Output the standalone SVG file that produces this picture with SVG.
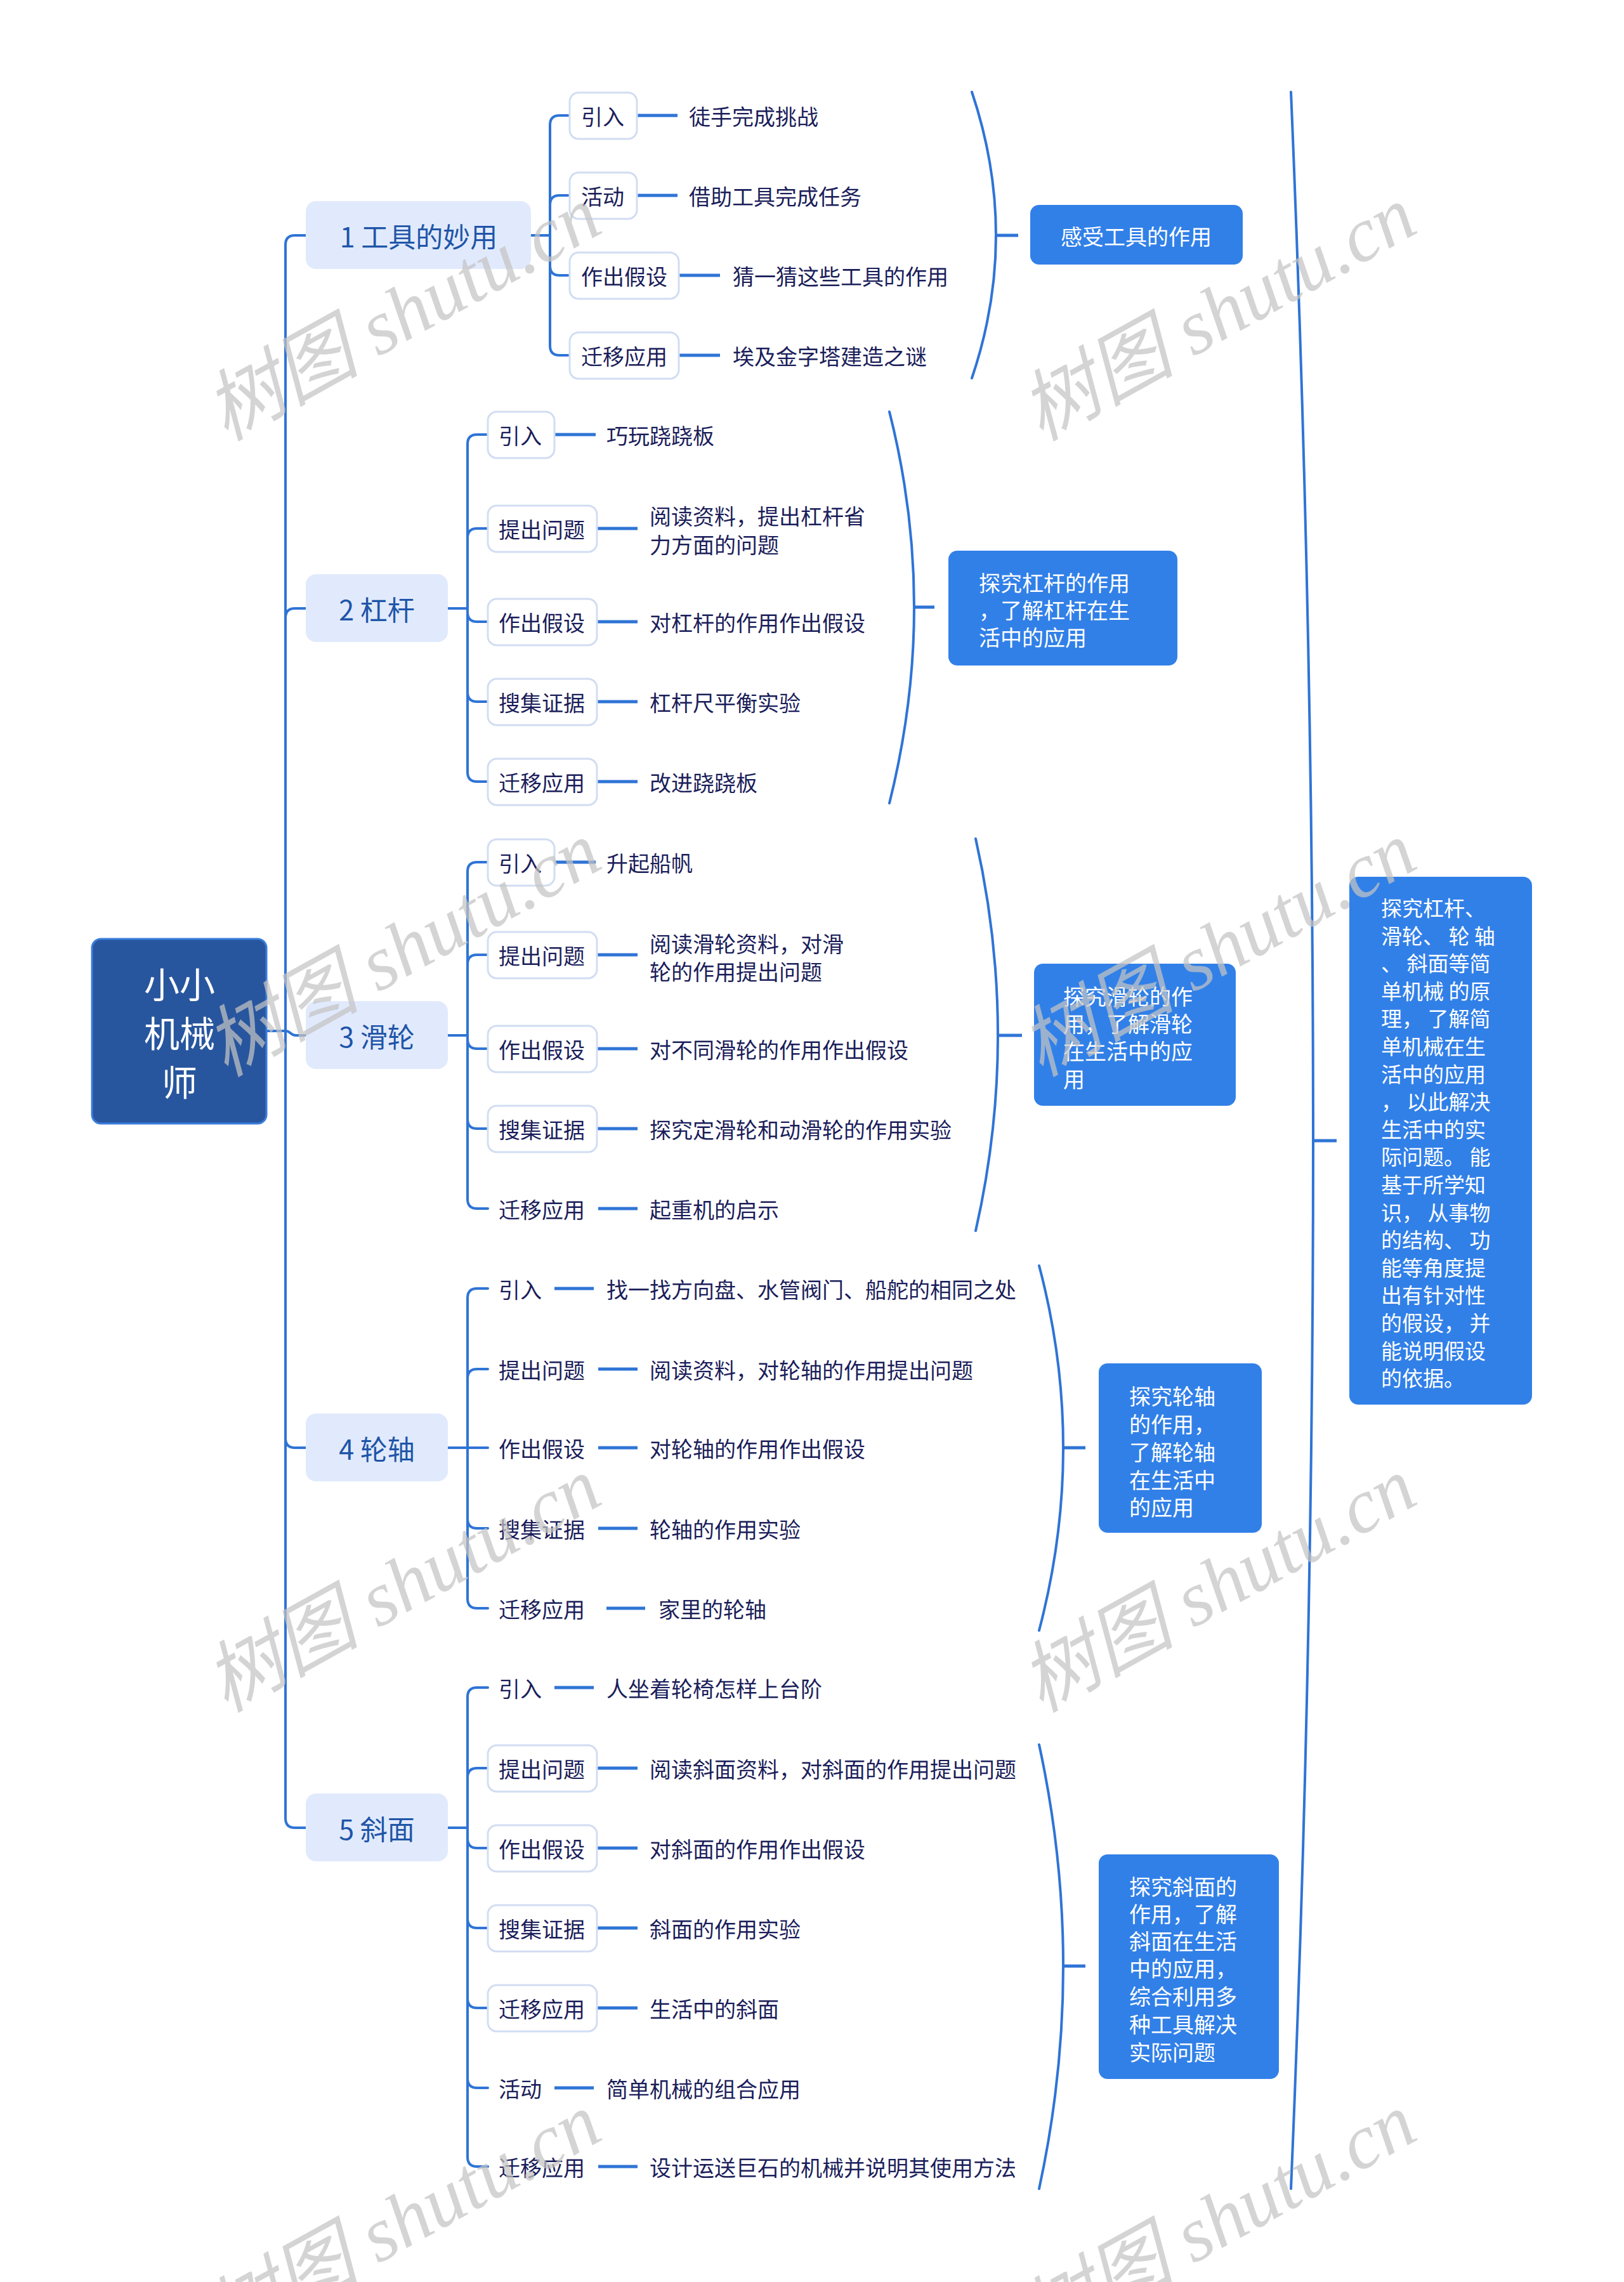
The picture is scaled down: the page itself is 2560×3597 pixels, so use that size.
<svg xmlns="http://www.w3.org/2000/svg" width="2560" height="3597" viewBox="0 0 2560 3597">
<style>
.c{fill:none;stroke:#2f74d6;stroke-width:4;stroke-linecap:round}
.lf{stroke-width:5;stroke-linecap:butt}
.sub{fill:#fff;stroke:#d2ddf2;stroke-width:3}
.t{font-family:"Noto Sans CJK SC","Noto Sans",sans-serif;font-size:34px;fill:#1b1e5a;dominant-baseline:central}
.l1{fill:#e1eafc}
.l1t{font-size:43px;fill:#1f55a8;text-anchor:middle}
.sum{fill:#3180e8}
.st{fill:#fff}
.wm{font-family:"Liberation Serif","Noto Sans CJK SC",serif;font-style:italic;font-size:122px;fill:#c4c4c4;opacity:.72}
</style>
<rect width="2560" height="3597" fill="#fff"/>

<g id="connectors">
<path class="c" d="M420 1625 H450"/>
<path class="c" d="M450 1625 V386 Q450 371 465 371 H482"/>
<path class="c" d="M450 1625 V974 Q450 959 465 959 H482"/>
<path class="c" d="M450 1625 C458 1625 458 1632 466 1632 H482"/>
<path class="c" d="M450 1625 V2267 Q450 2282 465 2282 H482"/>
<path class="c" d="M450 1625 V2866 Q450 2881 465 2881 H482"/>

<path class="c" d="M837 371 H867"/>
<path class="c" d="M867 371 V197 Q867 182 882 182 H898"/>
<path class="c" d="M867 371 V323 Q867 308 882 308 H898"/>
<path class="c" d="M867 371 V419 Q867 434 882 434 H898"/>
<path class="c" d="M867 371 V545 Q867 560 882 560 H898"/>
<path class="c lf" d="M1004 182 H1068"/>
<path class="c lf" d="M1004 308 H1068"/>
<path class="c lf" d="M1070 434 H1135"/>
<path class="c lf" d="M1070 560 H1135"/>
<path class="c" d="M1532 145 Q1570 258 1570 371 Q1570 484 1532 596"/>
<path class="c lf" d="M1570 371 H1605"/>

<path class="c" d="M706 959 H737"/>
<path class="c" d="M737 959 V700 Q737 685 752 685 H769"/>
<path class="c" d="M737 959 V848 Q737 833 752 833 H769"/>
<path class="c" d="M737 959 V965 Q737 980 752 980 H769"/>
<path class="c" d="M737 959 V1091 Q737 1106 752 1106 H769"/>
<path class="c" d="M737 959 V1217 Q737 1232 752 1232 H769"/>
<path class="c lf" d="M874 685 H939"/>
<path class="c lf" d="M941 833 H1005"/>
<path class="c lf" d="M941 980 H1005"/>
<path class="c lf" d="M941 1106 H1005"/>
<path class="c lf" d="M941 1232 H1005"/>
<path class="c" d="M1402 649 Q1441 803 1441 957 Q1441 1110 1402 1266"/>
<path class="c lf" d="M1441 957 H1473"/>

<path class="c" d="M706 1632 H737"/>
<path class="c" d="M737 1632 V1374 Q737 1359 752 1359 H769"/>
<path class="c" d="M737 1632 V1520 Q737 1505 752 1505 H769"/>
<path class="c" d="M737 1632 V1638 Q737 1653 752 1653 H769"/>
<path class="c" d="M737 1632 V1764 Q737 1779 752 1779 H769"/>
<path class="c" d="M737 1632 V1890 Q737 1905 752 1905 H769"/>
<path class="c lf" d="M874 1359 H939"/>
<path class="c lf" d="M941 1505 H1005"/>
<path class="c lf" d="M941 1653 H1005"/>
<path class="c lf" d="M941 1779 H1005"/>
<path class="c lf" d="M943 1905 H1005"/>
<path class="c" d="M1538 1322 Q1573 1477 1573 1632 Q1573 1786 1538 1940"/>
<path class="c lf" d="M1573 1632 H1611"/>

<path class="c" d="M706 2282 H737"/>
<path class="c" d="M737 2282 V2046 Q737 2031 752 2031 H769"/>
<path class="c" d="M737 2282 V2173 Q737 2158 752 2158 H769"/>
<path class="c" d="M737 2282 H769"/>
<path class="c" d="M737 2282 V2394 Q737 2409 752 2409 H769"/>
<path class="c" d="M737 2282 V2520 Q737 2535 752 2535 H769"/>
<path class="c lf" d="M874 2031 H936"/>
<path class="c lf" d="M943 2158 H1005"/>
<path class="c lf" d="M943 2282 H1005"/>
<path class="c lf" d="M943 2409 H1005"/>
<path class="c lf" d="M956 2535 H1017"/>
<path class="c" d="M1638 1995 Q1676 2138 1676 2282 Q1676 2426 1638 2570"/>
<path class="c lf" d="M1676 2282 H1711"/>

<path class="c" d="M706 2881 H737"/>
<path class="c" d="M737 2881 V2675 Q737 2660 752 2660 H769"/>
<path class="c" d="M737 2881 V2802 Q737 2787 752 2787 H769"/>
<path class="c" d="M737 2881 V2898 Q737 2913 752 2913 H769"/>
<path class="c" d="M737 2881 V3024 Q737 3039 752 3039 H769"/>
<path class="c" d="M737 2881 V3150 Q737 3165 752 3165 H769"/>
<path class="c" d="M737 2881 V3276 Q737 3291 752 3291 H769"/>
<path class="c" d="M737 2881 V3400 Q737 3415 752 3415 H769"/>
<path class="c lf" d="M874 2660 H936"/>
<path class="c lf" d="M941 2787 H1005"/>
<path class="c lf" d="M941 2913 H1005"/>
<path class="c lf" d="M941 3039 H1005"/>
<path class="c lf" d="M941 3165 H1005"/>
<path class="c lf" d="M874 3291 H936"/>
<path class="c lf" d="M943 3415 H1005"/>
<path class="c" d="M1638 2750 Q1676 2925 1676 3099 Q1676 3275 1638 3450"/>
<path class="c lf" d="M1676 3099 H1711"/>

<path class="c" d="M2035 145 Q2070 971 2070 1798 Q2070 2624 2035 3450"/>
<path class="c lf" d="M2070 1798 H2107"/>
</g>

<g id="root">
<rect x="145" y="1480" width="275" height="291" rx="14" fill="#28569e" stroke="#3b7ddd" stroke-width="3"/>
<text class="t" style="font-size:56px;fill:#fff" text-anchor="middle"><tspan x="283" y="1548">小小</tspan><tspan x="283" y="1625">机械</tspan><tspan x="283" y="1702">师</tspan></text>
</g>

<g id="n1">
<rect class="l1" x="482" y="317" width="355" height="107" rx="16"/>
<text class="t l1t" x="660" y="371">1 工具的妙用</text>
</g>
<g id="n1-1"><rect class="sub" x="898" y="146" width="106" height="73" rx="14"/><text class="t" x="916" y="182">引入</text></g>
<g id="n1-1a"><text class="t" x="1086" y="182">徒手完成挑战</text></g>
<g id="n1-2"><rect class="sub" x="898" y="272" width="106" height="73" rx="14"/><text class="t" x="916" y="308">活动</text></g>
<g id="n1-2a"><text class="t" x="1086" y="308">借助工具完成任务</text></g>
<g id="n1-3"><rect class="sub" x="898" y="398" width="172" height="73" rx="14"/><text class="t" x="916" y="434">作出假设</text></g>
<g id="n1-3a"><text class="t" x="1155" y="434">猜一猜这些工具的作用</text></g>
<g id="n1-4"><rect class="sub" x="898" y="524" width="172" height="73" rx="14"/><text class="t" x="916" y="560">迁移应用</text></g>
<g id="n1-4a"><text class="t" x="1155" y="560">埃及金字塔建造之谜</text></g>
<g id="s1"><rect class="sum" x="1624" y="323" width="335" height="94" rx="14"/><text class="t st" x="1791" y="371" text-anchor="middle" style="fill:#fff">感受工具的作用</text></g>

<g id="n2">
<rect class="l1" x="482" y="905" width="224" height="107" rx="16"/>
<text class="t l1t" x="594" y="959">2 杠杆</text>
</g>
<g id="n2-1"><rect class="sub" x="769" y="649" width="105" height="73" rx="14"/><text class="t" x="786" y="685">引入</text></g>
<g id="n2-1a"><text class="t" x="956" y="685">巧玩跷跷板</text></g>
<g id="n2-2"><rect class="sub" x="769" y="797" width="172" height="73" rx="14"/><text class="t" x="786" y="833">提出问题</text></g>
<g id="n2-2a"><text class="t"><tspan x="1024" y="812">阅读资料，提出杠杆省</tspan><tspan x="1024" y="857">力方面的问题</tspan></text></g>
<g id="n2-3"><rect class="sub" x="769" y="944" width="172" height="73" rx="14"/><text class="t" x="786" y="980">作出假设</text></g>
<g id="n2-3a"><text class="t" x="1024" y="980">对杠杆的作用作出假设</text></g>
<g id="n2-4"><rect class="sub" x="769" y="1070" width="172" height="73" rx="14"/><text class="t" x="786" y="1106">搜集证据</text></g>
<g id="n2-4a"><text class="t" x="1024" y="1106">杠杆尺平衡实验</text></g>
<g id="n2-5"><rect class="sub" x="769" y="1196" width="172" height="73" rx="14"/><text class="t" x="786" y="1232">迁移应用</text></g>
<g id="n2-5a"><text class="t" x="1024" y="1232">改进跷跷板</text></g>
<g id="s2"><rect class="sum" x="1495" y="868" width="361" height="181" rx="14"/><text class="t" style="fill:#fff"><tspan x="1543" y="917">探究杠杆的作用</tspan><tspan x="1543" y="960">，了解杠杆在生</tspan><tspan x="1543" y="1003">活中的应用</tspan></text></g>

<g id="n3">
<rect class="l1" x="482" y="1578" width="224" height="107" rx="16"/>
<text class="t l1t" x="594" y="1632">3 滑轮</text>
</g>
<g id="n3-1"><rect class="sub" x="769" y="1323" width="105" height="73" rx="14"/><text class="t" x="786" y="1359">引入</text></g>
<g id="n3-1a"><text class="t" x="956" y="1359">升起船帆</text></g>
<g id="n3-2"><rect class="sub" x="769" y="1469" width="172" height="73" rx="14"/><text class="t" x="786" y="1505">提出问题</text></g>
<g id="n3-2a"><text class="t"><tspan x="1024" y="1486">阅读滑轮资料，对滑</tspan><tspan x="1024" y="1530">轮的作用提出问题</tspan></text></g>
<g id="n3-3"><rect class="sub" x="769" y="1617" width="172" height="73" rx="14"/><text class="t" x="786" y="1653">作出假设</text></g>
<g id="n3-3a"><text class="t" x="1024" y="1653">对不同滑轮的作用作出假设</text></g>
<g id="n3-4"><rect class="sub" x="769" y="1743" width="172" height="73" rx="14"/><text class="t" x="786" y="1779">搜集证据</text></g>
<g id="n3-4a"><text class="t" x="1024" y="1779">探究定滑轮和动滑轮的作用实验</text></g>
<g id="n3-5"><text class="t" x="786" y="1905">迁移应用</text></g>
<g id="n3-5a"><text class="t" x="1024" y="1905">起重机的启示</text></g>
<g id="s3"><rect class="sum" x="1630" y="1519" width="318" height="224" rx="14"/><text class="t" style="fill:#fff"><tspan x="1676" y="1569">探究滑轮的作</tspan><tspan x="1676" y="1612">用，了解滑轮</tspan><tspan x="1676" y="1655">在生活中的应</tspan><tspan x="1676" y="1699">用</tspan></text></g>

<g id="n4">
<rect class="l1" x="482" y="2228" width="224" height="107" rx="16"/>
<text class="t l1t" x="594" y="2282">4 轮轴</text>
</g>
<g id="n4-1"><text class="t" x="786" y="2031">引入</text></g>
<g id="n4-1a"><text class="t" x="956" y="2031">找一找方向盘、水管阀门、船舵的相同之处</text></g>
<g id="n4-2"><text class="t" x="786" y="2158">提出问题</text></g>
<g id="n4-2a"><text class="t" x="1024" y="2158">阅读资料，对轮轴的作用提出问题</text></g>
<g id="n4-3"><text class="t" x="786" y="2282">作出假设</text></g>
<g id="n4-3a"><text class="t" x="1024" y="2282">对轮轴的作用作出假设</text></g>
<g id="n4-4"><text class="t" x="786" y="2409">搜集证据</text></g>
<g id="n4-4a"><text class="t" x="1024" y="2409">轮轴的作用实验</text></g>
<g id="n4-5"><text class="t" x="786" y="2535">迁移应用</text></g>
<g id="n4-5a"><text class="t" x="1038" y="2535">家里的轮轴</text></g>
<g id="s4"><rect class="sum" x="1732" y="2149" width="257" height="267" rx="14"/><text class="t" style="fill:#fff"><tspan x="1780" y="2199">探究轮轴</tspan><tspan x="1780" y="2243">的作用，</tspan><tspan x="1780" y="2287">了解轮轴</tspan><tspan x="1780" y="2331">在生活中</tspan><tspan x="1780" y="2374">的应用</tspan></text></g>

<g id="n5">
<rect class="l1" x="482" y="2827" width="224" height="107" rx="16"/>
<text class="t l1t" x="594" y="2881">5 斜面</text>
</g>
<g id="n5-1"><text class="t" x="786" y="2660">引入</text></g>
<g id="n5-1a"><text class="t" x="956" y="2660">人坐着轮椅怎样上台阶</text></g>
<g id="n5-2"><rect class="sub" x="769" y="2751" width="172" height="73" rx="14"/><text class="t" x="786" y="2787">提出问题</text></g>
<g id="n5-2a"><text class="t" x="1024" y="2787">阅读斜面资料，对斜面的作用提出问题</text></g>
<g id="n5-3"><rect class="sub" x="769" y="2877" width="172" height="73" rx="14"/><text class="t" x="786" y="2913">作出假设</text></g>
<g id="n5-3a"><text class="t" x="1024" y="2913">对斜面的作用作出假设</text></g>
<g id="n5-4"><rect class="sub" x="769" y="3003" width="172" height="73" rx="14"/><text class="t" x="786" y="3039">搜集证据</text></g>
<g id="n5-4a"><text class="t" x="1024" y="3039">斜面的作用实验</text></g>
<g id="n5-5"><rect class="sub" x="769" y="3129" width="172" height="73" rx="14"/><text class="t" x="786" y="3165">迁移应用</text></g>
<g id="n5-5a"><text class="t" x="1024" y="3165">生活中的斜面</text></g>
<g id="n5-6"><text class="t" x="786" y="3291">活动</text></g>
<g id="n5-6a"><text class="t" x="956" y="3291">简单机械的组合应用</text></g>
<g id="n5-7"><text class="t" x="786" y="3415">迁移应用</text></g>
<g id="n5-7a"><text class="t" x="1024" y="3415">设计运送巨石的机械并说明其使用方法</text></g>
<g id="s5"><rect class="sum" x="1732" y="2923" width="284" height="354" rx="14"/><text class="t" style="fill:#fff"><tspan x="1780" y="2972">探究斜面的</tspan><tspan x="1780" y="3015">作用，了解</tspan><tspan x="1780" y="3058">斜面在生活</tspan><tspan x="1780" y="3101">中的应用，</tspan><tspan x="1780" y="3145">综合利用多</tspan><tspan x="1780" y="3189">种工具解决</tspan><tspan x="1780" y="3233">实际问题</tspan></text></g>

<g id="s-all"><rect class="sum" x="2127" y="1382" width="288" height="832" rx="14"/>
<text class="t" style="fill:#fff;font-size:33px" xml:space="preserve"><tspan x="2177" y="1430">探究杠杆、</tspan><tspan x="2177" y="1474">滑轮、 轮 轴</tspan><tspan x="2177" y="1517">、 斜面等简</tspan><tspan x="2177" y="1561">单机械 的原</tspan><tspan x="2177" y="1604">理， 了解简</tspan><tspan x="2177" y="1648">单机械在生</tspan><tspan x="2177" y="1692">活中的应用</tspan><tspan x="2177" y="1735">， 以此解决</tspan><tspan x="2177" y="1779">生活中的实</tspan><tspan x="2177" y="1822">际问题。 能</tspan><tspan x="2177" y="1866">基于所学知</tspan><tspan x="2177" y="1910">识， 从事物</tspan><tspan x="2177" y="1953">的结构、 功</tspan><tspan x="2177" y="1997">能等角度提</tspan><tspan x="2177" y="2040">出有针对性</tspan><tspan x="2177" y="2084">的假设， 并</tspan><tspan x="2177" y="2128">能说明假设</tspan><tspan x="2177" y="2171">的依据。</tspan></text>
</g>

<g id="watermark">
<text class="wm" text-anchor="middle" transform="translate(655 530) rotate(-29)">树图 shutu.cn</text>
<text class="wm" text-anchor="middle" transform="translate(1940 530) rotate(-29)">树图 shutu.cn</text>
<text class="wm" text-anchor="middle" transform="translate(655 1532) rotate(-29)">树图 shutu.cn</text>
<text class="wm" text-anchor="middle" transform="translate(1940 1532) rotate(-29)">树图 shutu.cn</text>
<text class="wm" text-anchor="middle" transform="translate(655 2534) rotate(-29)">树图 shutu.cn</text>
<text class="wm" text-anchor="middle" transform="translate(1940 2534) rotate(-29)">树图 shutu.cn</text>
<text class="wm" text-anchor="middle" transform="translate(655 3536) rotate(-29)">树图 shutu.cn</text>
<text class="wm" text-anchor="middle" transform="translate(1940 3536) rotate(-29)">树图 shutu.cn</text>
</g>
</svg>
